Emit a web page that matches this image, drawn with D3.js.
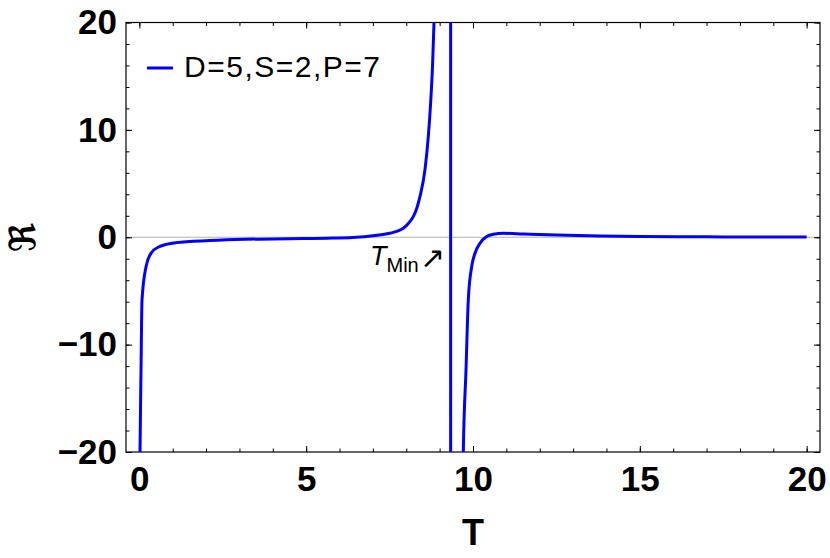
<!DOCTYPE html>
<html>
<head>
<meta charset="utf-8">
<script src="https://cdn.jsdelivr.net/npm/d3@7"></script>
<style>
  body { margin: 0; background: #fff; }
  svg { display: block; font-family: "Liberation Sans", Arial, sans-serif; }
</style>
</head>
<body>
<svg id="chart" width="830" height="558"></svg>
<script>
// values, one array per branch of the curve
const branchLeft = [
  [0.015, -22], [0.02, -20], [0.05, -12.4], [0.08, -5.84], [0.2, -2.74],
  [0.35, -1.49], [0.6, -0.87], [1.1, -0.5], [2.1, -0.31], [3.2, -0.19],
  [4.5, -0.14], [5.8, -0.08], [6.5, 0.0], [7.0, 0.15], [7.5, 0.37],
  [7.91, 0.83], [8.08, 1.35], [8.21, 1.92], [8.32, 2.75], [8.41, 3.78],
  [8.56, 6.27], [8.66, 9.37], [8.73, 12.5], [8.79, 16.2], [8.83, 19.9], [8.85, 22]
];
const branchMiddle = [[9.33, 22], [9.33, -22]];
const branchRight = [
  [9.70, -22], [9.71, -20], [9.79, -12.4], [9.86, -5.8], [9.96, -2.74],
  [10.06, -1.49], [10.21, -0.56], [10.41, 0.06], [10.61, 0.28], [10.91, 0.37],
  [11.51, 0.31], [12.51, 0.21], [13.81, 0.12], [15, 0.07], [17, 0.04], [20, 0.02]
];
const xMajor = [0, 5, 10, 15, 20];
const xMinor = d3.range(0, 21, 1);
const yMajor = [-20, -10, 0, 10, 20];
const yMinor = d3.range(-20, 21, 2);
const legendLabel = "D=5,S=2,P=7";

const margin = { top: 22.5, right: 10, bottom: 106, left: 126 };
const W = 830, H = 558;
const svg = d3.select("#chart");

const x = d3.scaleLinear().domain([-0.4, 20.4]).range([margin.left, W - margin.right]);
const y = d3.scaleLinear().domain([-20, 20]).range([H - margin.bottom, margin.top]);

svg.append("defs").append("clipPath").attr("id", "plot")
  .append("rect")
  .attr("x", x.range()[0]).attr("y", y.range()[1])
  .attr("width", x.range()[1] - x.range()[0])
  .attr("height", y.range()[0] - y.range()[1]);

// zero line
svg.append("line")
  .attr("x1", x.range()[0]).attr("x2", x.range()[1])
  .attr("y1", y(0)).attr("y2", y(0))
  .attr("stroke", "#b3b3b3").attr("stroke-width", 1);

// ticks (inward, on all four sides)
function styleAxis(g) {
  g.select(".domain").remove();
  g.selectAll(".tick line").attr("stroke", "#000").attr("stroke-width", 1);
  g.selectAll(".tick text")
    .attr("fill", "#000")
    .style("font-size", "35px")
    .style("font-weight", "bold");
}
const yB = y.range()[0], yT = y.range()[1], xL = x.range()[0], xR = x.range()[1];

svg.append("g").attr("transform", `translate(0,${yB})`)
  .call(d3.axisBottom(x).tickValues(xMinor).tickSize(-3.5).tickFormat("")).call(styleAxis);
svg.append("g").attr("transform", `translate(0,${yB})`)
  .call(d3.axisBottom(x).tickValues(xMajor).tickSize(-6).tickPadding(14).tickFormat(d3.format("d")))
  .call(styleAxis);
svg.append("g").attr("transform", `translate(0,${yT})`)
  .call(d3.axisTop(x).tickValues(xMinor).tickSize(-3.5).tickFormat("")).call(styleAxis);
svg.append("g").attr("transform", `translate(0,${yT})`)
  .call(d3.axisTop(x).tickValues(xMajor).tickSize(-6).tickFormat("")).call(styleAxis);

svg.append("g").attr("transform", `translate(${xL},0)`)
  .call(d3.axisLeft(y).tickValues(yMinor).tickSize(-3.5).tickFormat("")).call(styleAxis);
svg.append("g").attr("transform", `translate(${xL},0)`)
  .call(d3.axisLeft(y).tickValues(yMajor).tickSize(-6).tickPadding(9)
    .tickFormat(d => d < 0 ? "\u2212" + Math.abs(d) : d))
  .call(styleAxis);
svg.append("g").attr("transform", `translate(${xR},0)`)
  .call(d3.axisRight(y).tickValues(yMinor).tickSize(-3.5).tickFormat("")).call(styleAxis);
svg.append("g").attr("transform", `translate(${xR},0)`)
  .call(d3.axisRight(y).tickValues(yMajor).tickSize(-6).tickFormat("")).call(styleAxis);

// frame
svg.append("rect")
  .attr("x", xL).attr("y", yT).attr("width", xR - xL).attr("height", yB - yT)
  .attr("fill", "none").attr("stroke", "#000").attr("stroke-width", 1.2);

// curve
const smooth = d3.line().x(d => x(d[0])).y(d => y(d[1])).curve(d3.curveMonotoneX);
const straight = d3.line().x(d => x(d[0])).y(d => y(d[1]));
const curves = svg.append("g").attr("clip-path", "url(#plot)");
[[branchLeft, smooth], [branchMiddle, straight], [branchRight, smooth]].forEach(([data, gen]) => {
  curves.append("path")
    .attr("d", gen(data))
    .attr("fill", "none")
    .attr("stroke", "#0000ff")
    .attr("stroke-width", 3);
});

// legend
svg.append("line")
  .attr("x1", 147).attr("x2", 173).attr("y1", 68).attr("y2", 68)
  .attr("stroke", "#0000ff").attr("stroke-width", 3);
svg.append("text")
  .attr("x", 184).attr("y", 77)
  .attr("textLength", 196).attr("lengthAdjust", "spacing")
  .style("font-size", "30px")
  .text(legendLabel);

// T_Min annotation
const tmin = svg.append("text").attr("x", 370).attr("y", 265).style("font-size", "27px");
tmin.append("tspan").style("font-style", "italic").text("T");
tmin.append("tspan").attr("dy", 7).style("font-size", "20px").text("Min");
svg.append("text")
  .attr("x", 420).attr("y", 268)
  .style("font-family", "DejaVu Sans")
  .style("font-size", "30px")
  .text("\u2197");

// axis titles
svg.append("text")
  .attr("x", (xL + xR) / 2).attr("y", 545)
  .attr("text-anchor", "middle")
  .style("font-size", "36px").style("font-weight", "bold")
  .text("T");
svg.append("text")
  .attr("transform", `translate(35,${y(0)}) rotate(-90)`)
  .attr("text-anchor", "middle")
  .style("font-family", "DejaVu Sans")
  .style("font-size", "36px").style("font-weight", "bold")
  .text("\u211C");
</script>
</body>
</html>
